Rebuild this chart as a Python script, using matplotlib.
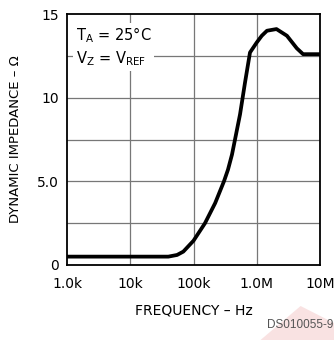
import matplotlib
matplotlib.use('Agg')
import matplotlib.pyplot as plt
from matplotlib.patches import Polygon

# data
freq = [1e3, 4e4, 5.5e4, 6.9e4, 1e5, 1.52e5, 2.2e5, 3.03e5, 3.51e5, 4.06e5, 4.7e5,
        5.44e5, 6.52e5, 7.82e5, 1e6, 1.2e6, 1.45e6, 2.05e6, 3.0e6, 4.3e6, 5.4e6, 1e7]
zdyn = [0.5, 0.5, 0.6, 0.8, 1.45, 2.5, 3.7, 5.0, 5.7, 6.6, 7.8,
        9.0, 10.9, 12.7, 13.3, 13.7, 14.0, 14.1, 13.7, 12.95, 12.6, 12.6]
xticks = [1e3, 1e4, 1e5, 1e6, 1e7]
xlabels = ['1.0k', '10k', '100k', '1.0M', '10M']
yticks = [0, 5, 10, 15]
ylabels = ['0', '5.0', '10', '15']

plt.rcParams['font.family'] = ['DejaVu Sans']
plt.rcParams['mathtext.fontset'] = 'dejavusans'

fig = plt.figure(figsize=(3.34, 3.40), dpi=100)
ax = fig.add_axes([0.2006, 0.2206, 0.7575, 0.7382])

# faint watermark triangle
fig.patches.append(Polygon([[0.78, 0.0], [0.90, 0.10], [1.0, 0.05], [1.0, 0.0]],
                           closed=True, transform=fig.transFigure,
                           facecolor='#f5d0d0', edgecolor='none', alpha=0.6, zorder=0))

ax.set_xscale('log')
ax.set_xlim(1e3, 1e7)
ax.set_ylim(0, 15)

for y in [2.5, 5, 7.5, 10, 12.5]:
    ax.axhline(y, color='#777777', lw=0.9, zorder=1)
for x in [1e4, 1e5, 1e6]:
    ax.axvline(x, color='#777777', lw=0.9, zorder=1)

ax.plot(freq, zdyn, color='black', lw=2.7, solid_joinstyle='round', zorder=3)

ax.set_xticks(xticks)
ax.set_xticklabels(xlabels, fontsize=10)
ax.set_yticks(yticks)
ax.set_yticklabels(ylabels, fontsize=10)
ax.minorticks_off()
ax.tick_params(length=0)
ax.tick_params(axis='x', pad=9)
ax.tick_params(axis='y', pad=6)
for s in ax.spines.values():
    s.set_linewidth(1.3)

ax.set_xlabel('FREQUENCY – Hz', fontsize=10, labelpad=9)
ax.set_ylabel('DYNAMIC IMPEDANCE – Ω', fontsize=9.5, labelpad=11)

ax.text(0.035, 0.955, '$\\mathregular{T_A}$ = 25°C\n$\\mathregular{V_Z}$ = $\\mathregular{V_{REF}}$',
        transform=ax.transAxes, fontsize=10.5, va='top', ha='left', linespacing=1.3,
        bbox=dict(facecolor='white', edgecolor='none', pad=2), zorder=4)

fig.text(0.997, 0.025, 'DS010055-9', ha='right', va='bottom', fontsize=8.5,
         color='#555555', family=['Liberation Sans', 'DejaVu Sans'])

plt.savefig('out.png', dpi=100)
